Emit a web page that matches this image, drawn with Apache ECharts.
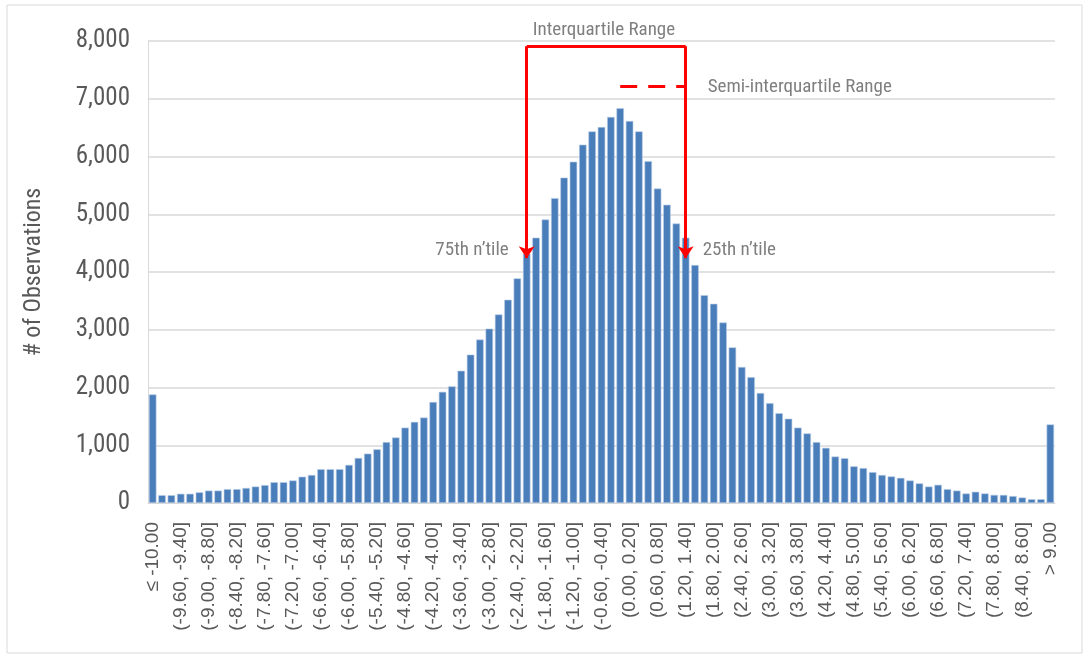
<!DOCTYPE html>
<html>
<head>
<meta charset="utf-8">
<script src="https://cdn.jsdelivr.net/npm/echarts@6/dist/echarts.min.js"></script>
<style>
html,body{margin:0;padding:0;background:#fff;}
#chart{width:1091px;height:659px;}
</style>
</head>
<body>
<div id="chart"></div>
<script>
const categories = [
"≤ -10.00",
"(-10.00, -9.80]","(-9.80, -9.60]","(-9.60, -9.40]","(-9.40, -9.20]","(-9.20, -9.00]",
"(-9.00, -8.80]","(-8.80, -8.60]","(-8.60, -8.40]","(-8.40, -8.20]","(-8.20, -8.00]",
"(-8.00, -7.80]","(-7.80, -7.60]","(-7.60, -7.40]","(-7.40, -7.20]","(-7.20, -7.00]",
"(-7.00, -6.80]","(-6.80, -6.60]","(-6.60, -6.40]","(-6.40, -6.20]","(-6.20, -6.00]",
"(-6.00, -5.80]","(-5.80, -5.60]","(-5.60, -5.40]","(-5.40, -5.20]","(-5.20, -5.00]",
"(-5.00, -4.80]","(-4.80, -4.60]","(-4.60, -4.40]","(-4.40, -4.20]","(-4.20, -4.00]",
"(-4.00, -3.80]","(-3.80, -3.60]","(-3.60, -3.40]","(-3.40, -3.20]","(-3.20, -3.00]",
"(-3.00, -2.80]","(-2.80, -2.60]","(-2.60, -2.40]","(-2.40, -2.20]","(-2.20, -2.00]",
"(-2.00, -1.80]","(-1.80, -1.60]","(-1.60, -1.40]","(-1.40, -1.20]","(-1.20, -1.00]",
"(-1.00, -0.80]","(-0.80, -0.60]","(-0.60, -0.40]","(-0.40, -0.20]","(-0.20, 0.00]",
"(0.00, 0.20]","(0.20, 0.40]","(0.40, 0.60]","(0.60, 0.80]","(0.80, 1.00]",
"(1.00, 1.20]","(1.20, 1.40]","(1.40, 1.60]","(1.60, 1.80]","(1.80, 2.00]",
"(2.00, 2.20]","(2.20, 2.40]","(2.40, 2.60]","(2.60, 2.80]","(2.80, 3.00]",
"(3.00, 3.20]","(3.20, 3.40]","(3.40, 3.60]","(3.60, 3.80]","(3.80, 4.00]",
"(4.00, 4.20]","(4.20, 4.40]","(4.40, 4.60]","(4.60, 4.80]","(4.80, 5.00]",
"(5.00, 5.20]","(5.20, 5.40]","(5.40, 5.60]","(5.60, 5.80]","(5.80, 6.00]",
"(6.00, 6.20]","(6.20, 6.40]","(6.40, 6.60]","(6.60, 6.80]","(6.80, 7.00]",
"(7.00, 7.20]","(7.20, 7.40]","(7.40, 7.60]","(7.60, 7.80]","(7.80, 8.00]",
"(8.00, 8.20]","(8.20, 8.40]","(8.40, 8.60]","(8.60, 8.80]","(8.80, 9.00]",
"> 9.00"
];

const observations = [
1880,
135,135,160,160,185,215,215,240,240,260,
285,310,360,360,390,455,485,585,585,585,
660,780,855,930,1055,1135,1305,1405,1480,1750,
1925,2020,2290,2570,2830,3020,3265,3520,3890,4315,
4595,4910,5280,5635,5910,6205,6435,6510,6685,6835,
6615,6435,5920,5445,5165,4840,4595,4120,3600,3450,
3125,2695,2355,2180,1905,1730,1555,1460,1305,1205,
1055,955,805,775,635,605,535,485,460,435,
390,340,285,315,240,215,165,195,165,140,
140,120,95,65,65,
1360
];

const yTicks = [0,1000,2000,3000,4000,5000,6000,7000,8000];

// annotation anchors (category index, value)
const q75Index = 40;
const q25Index = 57;
const semiStartIndex = 49.6;
const arrowTipValue = 4240;
const boxTopValue = 7910;
const semiValue = 7220;
const labelValue = 4370;

const FONT = "'Roboto Condensed','Liberation Sans Narrow','Arial Narrow','Roboto',sans-serif";
const XFONT = "'Liberation Sans',Arial,sans-serif";
const RED = '#ff0000';

const chart = echarts.init(document.getElementById('chart'), null, {renderer:'canvas'});

const option = {
  animation:false,
  backgroundColor:'#ffffff',
  grid:{left:148,right:36,top:41,bottom:156,containLabel:false},
  xAxis:{
    type:'category',
    data:categories,
    boundaryGap:true,
    axisLine:{show:true,lineStyle:{color:'#d9d9d9',width:1}},
    axisTick:{show:false},
    axisLabel:{
      interval:2,
      rotate:90,
      color:'#595959',
      fontFamily:XFONT,
      fontSize:19,
      margin:19
    },
    splitLine:{show:false}
  },
  yAxis:{
    type:'value',
    min:yTicks[0],
    max:yTicks[yTicks.length-1],
    interval:1000,
    name:'# of Observations',
    nameLocation:'middle',
    nameGap:102,
    nameRotate:90,
    nameTextStyle:{color:'#595959',fontFamily:FONT,fontSize:24},
    axisLine:{show:true,lineStyle:{color:'#d9d9d9',width:1}},
    axisTick:{show:false},
    axisLabel:{
      color:'#595959',
      fontFamily:FONT,
      fontSize:25,
      margin:18,
      formatter:function(v){return v.toLocaleString('en-US');}
    },
    splitLine:{show:true,lineStyle:{color:'#d9d9d9',width:1.5}}
  },
  series:[{
    type:'bar',
    data:observations,
    barCategoryGap:'20%',
    itemStyle:{color:'#4a7ebb',borderColor:'#b9cde6',borderWidth:0.6},
    clip:false,
    markLine:{
      silent:true,
      symbol:['none','none'],
      animation:false,
      label:{show:false},
      lineStyle:{color:RED,width:3,type:'solid'},
      data:[
        [{coord:[q75Index,boxTopValue],symbol:'none'},{coord:[q75Index,arrowTipValue],symbol:'arrow',symbolSize:[12,12]}],
        [{coord:[q75Index,boxTopValue],symbol:'none'},{coord:[q25Index,boxTopValue],symbol:'none'}],
        [{coord:[q25Index,boxTopValue],symbol:'none'},{coord:[q25Index,arrowTipValue],symbol:'arrow',symbolSize:[12,12]}],
        [{coord:[semiStartIndex,semiValue],symbol:'none',lineStyle:{color:RED,width:3,type:[17,11]}},{coord:[q25Index,semiValue],symbol:'none'}]
      ]
    }
  }]
};
chart.setOption(option);

function px(idx,val){return chart.convertToPixel({seriesIndex:0},[idx,val]);}
const pTopL = px(q75Index,boxTopValue);
const pSemi = px(q25Index,semiValue);
const pLab75 = px(q75Index,labelValue);
const pLab25 = px(q25Index,labelValue);

const txtStyle = {fill:'#7f7f7f',font:'19px '+FONT};
chart.setOption({
  graphic:[
    {type:'rect',shape:{x:7,y:5,width:1075,height:648},style:{fill:'none',stroke:'#d9d9d9',lineWidth:1},silent:true,z:-1},
    {type:'text',x:pTopL[0]+6,y:pTopL[1]-16,style:Object.assign({text:'Interquartile Range',textAlign:'left',textVerticalAlign:'middle'},txtStyle)},
    {type:'text',x:pSemi[0]+22,y:pSemi[1]+1,style:Object.assign({text:'Semi-interquartile Range',textAlign:'left',textVerticalAlign:'middle'},txtStyle)},
    {type:'text',x:pLab75[0]-18,y:pLab75[1],style:Object.assign({text:'75th n’tile',textAlign:'right',textVerticalAlign:'middle'},txtStyle)},
    {type:'text',x:pLab25[0]+17,y:pLab25[1],style:Object.assign({text:'25th n’tile',textAlign:'left',textVerticalAlign:'middle'},txtStyle)}
  ]
});
</script>
</body>
</html>
